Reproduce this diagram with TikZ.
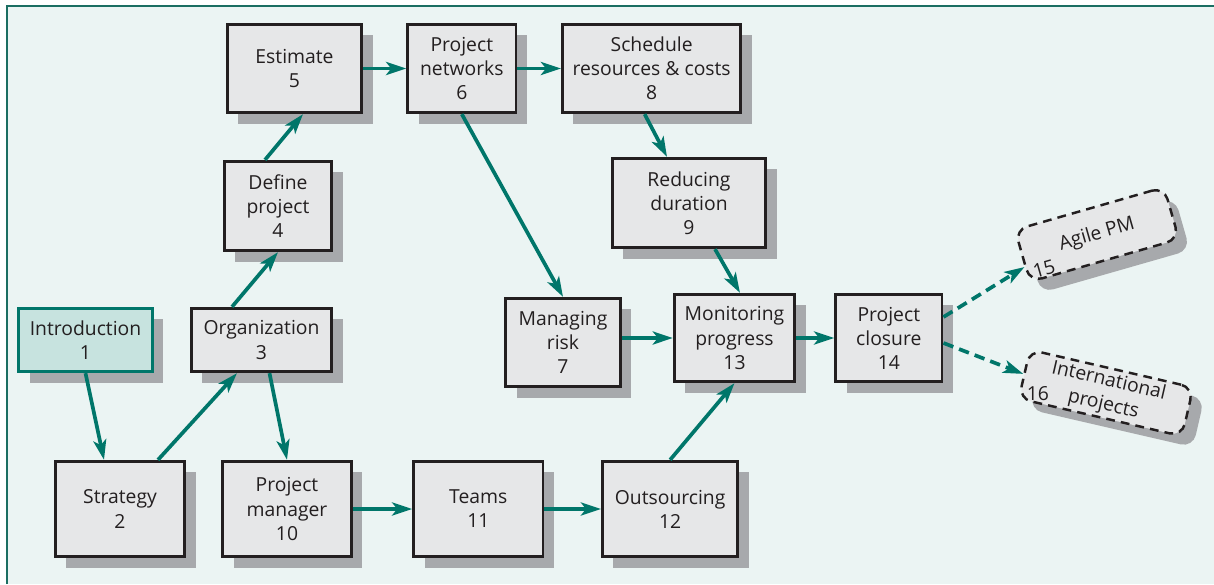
\documentclass[tikz,border=0pt]{standalone}
\usepackage{fontspec}
\setmainfont{Open Sans}
\usepackage{tikz}
\usetikzlibrary{shapes.misc, arrows.meta, positioning, calc, shadows}
\definecolor{pm_teal}{HTML}{00766A}
\colorlet{pmteal}{pm_teal}
\definecolor{pm_frame}{HTML}{1B6E62}
\definecolor{pm_back}{HTML}{EBF4F3}
\definecolor{pm_box}{HTML}{E6E7E8}
\definecolor{pm_shadow}{HTML}{A7A9AC}
\definecolor{pm_intro}{HTML}{C7E3DF}
\definecolor{pm_text}{HTML}{231F20}
\tikzset{
  topic/.style={rectangle,draw=pm_text,line width=1.6pt,fill=pm_box,text=pm_text,
    font=\fontsize{11}{13.7}\selectfont,align=center,inner sep=0pt,
    drop shadow={shadow xshift=0.22cm,shadow yshift=-0.22cm,opacity=1,fill=pm_shadow}},
  topic_f/.style={topic,draw=pmteal,fill=pm_intro},
  extra/.style={topic,rounded corners=0.25cm,line width=1.4pt,dash pattern=on 5pt off 3.5pt},
  numtag/.style={text=pm_text,font=\fontsize{11}{13.7}\selectfont,inner sep=0pt},
  relation/.style={line width=2.1pt,draw=pmteal,-{Stealth[length=0.4cm,width=0.26cm,inset=0.1cm]}},
  relationd/.style={relation,dash pattern=on 6pt off 3.5pt},
}

\begin{document}
\begin{tikzpicture}
	    \useasboundingbox (0,0) rectangle (24.28,11.68);
	    \fill[white] (0,0) rectangle (24.28,11.68);
	    \fill[pm_back] (0.14,0) rectangle (24.28,11.56);
	    \draw[pm_frame,line width=1.4pt] (0.14,0) -- (0.14,11.56) -- (24.28,11.56);
	    \node[topic_f,minimum width=2.67cm,minimum height=1.27cm] (A) at (1.71,4.88) {Introduction\\1};
	    \node[topic,minimum width=2.59cm,minimum height=1.91cm] (B) at (2.40,1.50) {Strategy\\2};
	    \node[topic,minimum width=2.81cm,minimum height=1.27cm] (C) at (5.23,4.88) {Organization\\3};
	    \node[topic,minimum width=2.15cm,minimum height=1.79cm] (D) at (5.56,7.56) {Define\\project\\4};
	    \node[topic,minimum width=2.69cm,minimum height=1.77cm] (E) at (5.89,10.31) {Estimate\\5};
	    \node[topic,minimum width=2.17cm,minimum height=1.77cm,right=0.86cm of E] (F) {Project\\networks\\6};
	    \node[topic,minimum width=2.29cm,minimum height=1.77cm] (G) at (11.26,4.83) {Managing\\risk\\7};
	    \node[topic,minimum width=3.57cm,minimum height=1.77cm,right=0.87cm of F] (H) {Schedule\\resources \& costs\\8};
	    \node[topic,minimum width=3.07cm,minimum height=1.79cm] (I) at (13.78,7.62) {Reducing\\duration\\9};
	    \node[topic,minimum width=2.57cm,minimum height=1.91cm] (J) at (5.74,1.50) {Project\\manager\\10};
	    \node[topic,minimum width=2.59cm,minimum height=1.91cm,right=1.19cm of J] (K) {Teams\\11};
	    \node[topic,minimum width=2.71cm,minimum height=1.91cm,right=1.13cm of K] (L) {Outsourcing\\12};
	    \node[topic,minimum width=2.41cm,minimum height=1.75cm] (M) at (14.69,4.92) {Monitoring\\progress\\13};
	    \node[topic,minimum width=2.13cm,minimum height=1.75cm,right=0.76cm of M] (N) {Project\\closure\\14};
	    \node[extra,rotate=16,minimum width=3.1cm,minimum height=1.08cm] (O) at (21.94,6.99) {Agile PM};
	    \node[extra,rotate=-13,minimum width=3.35cm,minimum height=1.0cm] (P) at (22.12,3.82) {International\\projects};
	    \node[numtag,rotate=16,anchor=south west,inner xsep=4pt,inner ysep=1.5pt] (O_n) at (O.south west) {15};
	    \node[numtag] (P_n) at ([shift={(0.41,0.12)}]P.south west) {16};
	    \draw[relation] (A.south) -- ([xshift=-0.32cm]B.north);
	    \draw[relation] ([xshift=0.76cm]B.north) -- ([xshift=-0.49cm]C.south);
	    \draw[relation] ([xshift=0.16cm]C.south) -- (J.north);
	    \draw[relation] ([xshift=-0.59cm]C.north) -- (D.south);
	    \draw[relation] ([xshift=-0.26cm]D.north) -- ([xshift=0.17cm]E.south);
	    \draw[relation] (E.east) -- (F.west);
	    \draw[relation] (F.east) -- (H.west);
	    \draw[relation] (F.south) -- (G.north);
	    \draw[relation] ([xshift=-0.14cm]H.south) -- ([xshift=-0.44cm]I.north);
	    \draw[relation] ([xshift=0.52cm]I.south) -- ([xshift=0.11cm]M.north);
	    \draw[relation] (G.east |- M.west) -- (M.west);
	    \draw[relation] (M.east) -- (N.west);
	    \draw[relation] (J.east) -- (K.west);
	    \draw[relation] (K.east) -- (L.west);
	    \draw[relation] (L.north) -- (M.south);
	    \draw[relationd] ([yshift=0.42cm]N.east) -- ($(O.west)!0.4!(O.south west)$);
	    \draw[relationd] ([yshift=-0.1cm]N.east) -- (P.west);
	\end{tikzpicture}
\end{document}
